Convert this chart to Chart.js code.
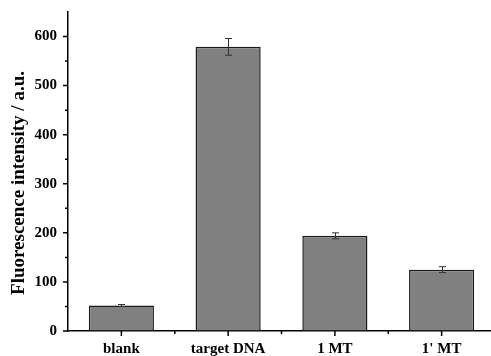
<!DOCTYPE html>
<html>
<head>
<meta charset="utf-8">
<script src="https://cdn.jsdelivr.net/npm/chart.js@4/dist/chart.umd.min.js"></script>
<style>
html,body{margin:0;padding:0;background:#fff;overflow:hidden;}
#wrap{position:absolute;left:0;top:0;width:496px;height:356px;}
</style>
</head>
<body>
<div id="wrap"><canvas id="c" width="496" height="356"></canvas></div>
<script>
const categories = ['blank', 'target DNA', '1 MT', "1' MT"];
const intensity = [52, 579, 194, 125];
const errors = [2, 17, 6, 6];
const yMajorTicks = [0, 100, 200, 300, 400, 500, 600];
const yTitle = 'Fluorescence intensity / a.u.';

const FONT = '"Liberation Serif", "Times New Roman", serif';

const decor = {
  id: 'decor',
  afterDatasetsDraw(chart) {
    const ctx = chart.ctx;
    const x = chart.scales.x, y = chart.scales.y;
    const meta = chart.getDatasetMeta(0);
    ctx.save();
    ctx.strokeStyle = '#333';
    ctx.lineWidth = 1;
    meta.data.forEach((bar, i) => {
      const cx = Math.round(bar.x) + 0.5;
      const yt = y.getPixelForValue(intensity[i] + errors[i]);
      const yb = y.getPixelForValue(intensity[i] - errors[i]);
      ctx.beginPath();
      ctx.moveTo(cx, yt); ctx.lineTo(cx, yb);
      ctx.moveTo(cx - 3.5, yt); ctx.lineTo(cx + 3.5, yt);
      ctx.moveTo(cx - 3.5, yb); ctx.lineTo(cx + 3.5, yb);
      ctx.stroke();
    });
    ctx.restore();
  },
  afterDraw(chart) {
    const ctx = chart.ctx;
    const x = chart.scales.x, y = chart.scales.y;
    const a = chart.chartArea;
    ctx.save();
    ctx.strokeStyle = '#000';
    ctx.lineWidth = 1.5;
    ctx.beginPath();
    for (let v = 0; v <= 600; v += 50) {
      const py = y.getPixelForValue(v);
      const len = (v % 100 === 0) ? 5 : 3;
      ctx.moveTo(a.left, py); ctx.lineTo(a.left - len, py);
    }
    categories.forEach((c, i) => {
      const px = x.getPixelForValue(i);
      ctx.moveTo(px, a.bottom); ctx.lineTo(px, a.bottom + 5);
      if (i > 0) {
        const pb = (x.getPixelForValue(i - 1) + px) / 2;
        ctx.moveTo(pb, a.bottom); ctx.lineTo(pb, a.bottom + 3);
      }
    });
    ctx.stroke();
    ctx.fillStyle = '#000';
    ctx.font = 'bold 19px ' + FONT;
    ctx.textAlign = 'center';
    ctx.textBaseline = 'middle';
    ctx.translate(19, 183);
    ctx.rotate(-Math.PI / 2);
    ctx.fillText(yTitle, 0, 0);
    ctx.restore();
  }
};

new Chart(document.getElementById('c'), {
  type: 'bar',
  data: {
    labels: categories,
    datasets: [{
      data: intensity,
      backgroundColor: '#808080',
      borderColor: '#1a1a1a',
      borderWidth: 1.5,
      borderSkipped: false,
      barPercentage: 0.61,
      categoryPercentage: 1.0
    }]
  },
  options: {
    responsive: false,
    animation: false,
    events: [],
    layout: { padding: { top: 12, right: 1, left: 0, bottom: 0 } },
    plugins: { legend: { display: false }, tooltip: { enabled: false } },
    scales: {
      x: {
        grid: { display: false, drawTicks: false, tickLength: 0 },
        border: { display: true, color: '#000', width: 1.5 },
        ticks: { color: '#000', font: { family: FONT, size: 15, weight: 'bold' }, padding: 9, maxRotation: 0 },
        afterFit(s) { s.height = 25; s.paddingLeft = 0; s.paddingRight = 0; }
      },
      y: {
        min: 0, max: 650,
        grid: { display: false, drawTicks: false, tickLength: 0 },
        border: { display: true, color: '#000', width: 1.5 },
        ticks: {
          stepSize: 50,
          color: '#000',
          font: { family: FONT, size: 15, weight: 'bold' },
          padding: 11,
          callback: (v) => yMajorTicks.includes(v) ? String(v) : ''
        },
        afterFit(s) { s.width = 68; s.paddingTop = 0; s.paddingBottom = 0; }
      }
    }
  },
  plugins: [decor]
});
</script>
</body>
</html>
